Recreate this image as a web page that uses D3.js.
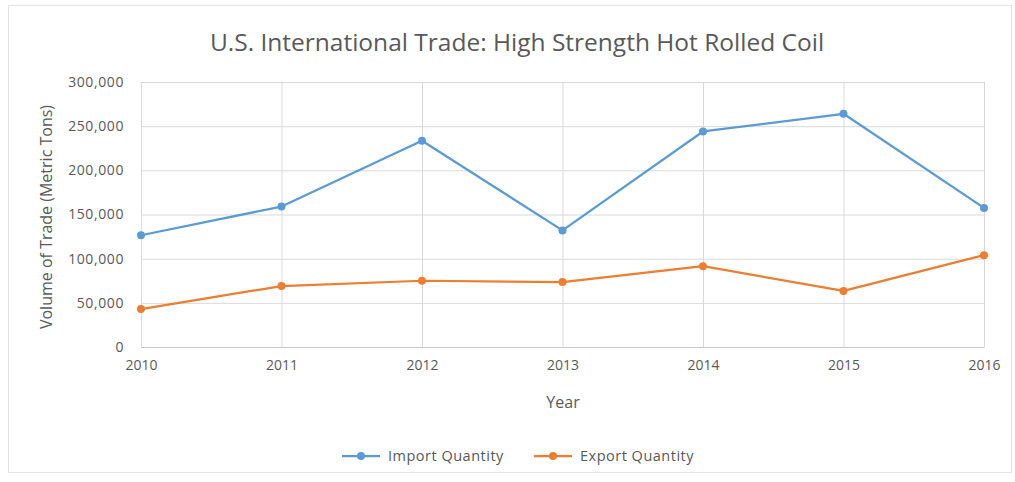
<!DOCTYPE html>
<html>
<head>
<meta charset="utf-8">
<script src="https://cdn.jsdelivr.net/npm/d3@7"></script>
<style>
  html, body { margin: 0; padding: 0; background: #fff; }
  svg text { font-family: "Open Sans", "Noto Sans", sans-serif; fill: #595959; }
</style>
</head>
<body>
<svg id="chart" width="1015" height="482"></svg>
<script>
// Chart data
const years = [2010, 2011, 2012, 2013, 2014, 2015, 2016];
const importQuantity = [126500, 159000, 233500, 132000, 244000, 264000, 157500];
const exportQuantity = [43000, 69000, 75000, 73500, 91500, 63500, 104000];
const yTicks = [0, 50000, 100000, 150000, 200000, 250000, 300000];
const seriesNames = ["Import Quantity", "Export Quantity"];
const seriesColors = ["#5b9bd5", "#ed7d31"];

const svg = d3.select("#chart");
const margin = { left: 141, right: 1015 - 984, top: 82, bottom: 482 - 347 };
const width = 1015 - margin.left - margin.right;
const height = 482 - margin.top - margin.bottom;

// outer chart frame
svg.append("rect")
  .attr("x", 8.5).attr("y", 5.5)
  .attr("width", 1003).attr("height", 467)
  .attr("fill", "#fff").attr("stroke", "#e3e3e3");

const x = d3.scalePoint().domain(years).range([0, width]);
const y = d3.scaleLinear().domain([0, 300000]).range([height, 0]);

const g = svg.append("g").attr("transform", `translate(${margin.left},${margin.top})`);

// horizontal gridlines
g.append("g")
  .call(d3.axisLeft(y).tickValues(yTicks).tickSize(-width).tickFormat(""))
  .call(s => s.select(".domain").remove())
  .call(s => s.selectAll("line").attr("stroke", "#d9d9d9"));

// vertical gridlines
g.append("g")
  .attr("transform", `translate(0,${height})`)
  .call(d3.axisBottom(x).tickSize(-height).tickFormat(""))
  .call(s => s.select(".domain").remove())
  .call(s => s.selectAll("line").attr("stroke", "#d9d9d9"));

// y tick labels
g.append("g")
  .call(d3.axisLeft(y).tickValues(yTicks).tickSize(0).tickPadding(17)
    .tickFormat(d3.format(",")))
  .call(s => s.select(".domain").remove())
  .call(s => s.selectAll("text").attr("font-size", "14px").attr("fill", "#595959")
    .attr("letter-spacing", "0.6px")
    .style("font-family", "'Open Sans', sans-serif"));

// x axis
g.append("g")
  .attr("transform", `translate(0,${height})`)
  .call(d3.axisBottom(x).tickSize(0).tickPadding(13))
  .call(s => s.select(".domain").attr("stroke", "#c8c8c8"))
  .call(s => s.selectAll("text").attr("font-size", "14px").attr("fill", "#595959")
    .style("font-family", "'Open Sans', sans-serif"));

// series lines and markers
const seriesData = [importQuantity, exportQuantity];
const line = d3.line().x((d, i) => x(years[i])).y(d => y(d));
seriesData.forEach((vals, k) => {
  g.append("path")
    .datum(vals)
    .attr("fill", "none")
    .attr("stroke", seriesColors[k])
    .attr("stroke-width", 2.25)
    .attr("stroke-linejoin", "round")
    .attr("d", line);
  g.selectAll(null)
    .data(vals)
    .join("circle")
    .attr("cx", (d, i) => x(years[i]))
    .attr("cy", d => y(d))
    .attr("r", 4)
    .attr("fill", seriesColors[k]);
});

// title
svg.append("text")
  .attr("x", 517).attr("y", 51)
  .attr("text-anchor", "middle")
  .attr("font-size", "24.5px")
  .text("U.S. International Trade: High Strength Hot Rolled Coil");

// axis titles
svg.append("text")
  .attr("x", 563).attr("y", 408)
  .attr("text-anchor", "middle")
  .attr("font-size", "16px")
  .text("Year");

svg.append("text")
  .attr("transform", "translate(52,217) rotate(-90)")
  .attr("text-anchor", "middle")
  .attr("font-size", "16px")
  .text("Volume of Trade (Metric Tons)");

// legend
const legendX = [342, 534];
seriesNames.forEach((name, k) => {
  const lg = svg.append("g").attr("transform", `translate(${legendX[k]},456)`);
  lg.append("line").attr("x1", 0).attr("x2", 38).attr("y1", 0).attr("y2", 0)
    .attr("stroke", seriesColors[k]).attr("stroke-width", 2.25);
  lg.append("circle").attr("cx", 19).attr("cy", 0).attr("r", 4).attr("fill", seriesColors[k]);
  lg.append("text").attr("x", 46).attr("y", 5).attr("font-size", "14.5px")
    .attr("letter-spacing", "0.5px").text(name);
});
</script>
</body>
</html>
